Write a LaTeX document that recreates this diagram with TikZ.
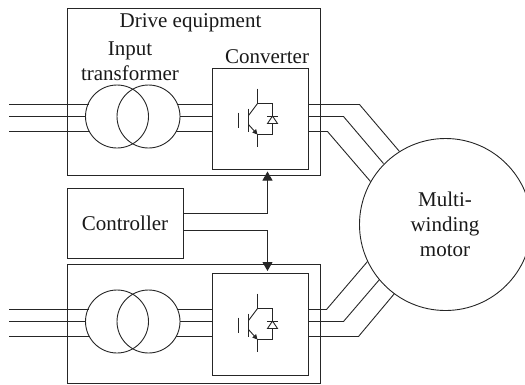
\documentclass[tikz,border=0pt]{standalone}
\usepackage{fontspec}
\setmainfont{Liberation Serif}
\usetikzlibrary{arrows.meta}
\tikzset{
  every picture/.style={x=1pt,y=-1pt},
  ln/.style={line width=1pt,draw=black!85},
  box/.style={line width=1pt,draw=black!85},
  lbl/.style={font=\fontsize{21}{24}\selectfont,inner sep=0pt,align=center,text=black!90},
  ctrl/.style={ln,-{Triangle[length=9pt,width=10pt]}},
  fineln/.style={line width=.9pt,draw=black!85}
}
\newcommand{\igbt}[3]{%
 \begin{scope}[shift={(#1,#2)}]
  \coordinate (#3g1) at (238,112); \coordinate (#3g2) at (238,127);
  \coordinate (#3b1) at (248,108); \coordinate (#3b2) at (248,131);
  \coordinate (#3t) at (257,88); \coordinate (#3c) at (257,103);
  \coordinate (#3e) at (257,134); \coordinate (#3f) at (257,146);
  \coordinate (#3r) at (272,103); \coordinate (#3s) at (272,134);
  \draw[fineln] (#3g1)--(#3g2);
  \draw[fineln] (#3b1)--(#3b2);
  \draw[fineln] (#3t)--(#3c)--(#3r)--(#3s)--(#3e)--(#3f);
  \draw[fineln] (248,115)--(#3c);
  \draw[fineln,-{Triangle[length=5pt,width=5pt]}] (248,124)--(#3e);
  \draw[fineln,fill=white] (272,115.5)--(277,123)--(267,123)--cycle;
  \draw[fineln] (266.5,115.5)--(277.5,115.5);
 \end{scope}}
\begin{document}
\begin{tikzpicture}
\useasboundingbox (-0.5,-0.5) rectangle (524.5,383.5);
\coordinate (a1) at (9,104); \coordinate (a2) at (9,116); \coordinate (a3) at (9,131);
\coordinate (b1) at (9,309); \coordinate (b2) at (9,321); \coordinate (b3) at (9,336);
\node[draw,box,minimum width=253pt,minimum height=167pt,inner sep=0pt] (top) at (193.5,91.5) {};
\node[draw,box,minimum width=253pt,minimum height=119pt,inner sep=0pt] (bot) at (193.5,323.5) {};
\node[draw,box,minimum width=116pt,minimum height=70pt,inner sep=0pt] (ctl) at (125,223) {};
\node[lbl] (ctltxt) at (124.5,222.5) {Controller};
\node[draw,box,minimum width=96pt,minimum height=101pt,inner sep=0pt] (c1) at (260,118.5) {};
\node[draw,box,minimum width=96pt,minimum height=102pt,inner sep=0pt] (c2) at (260,324) {};
\node[draw,fineln,circle,minimum size=63pt,inner sep=0pt] (t1l) at (116.5,116) {};
\node[draw,fineln,circle,minimum size=63pt,inner sep=0pt] (t1r) at (148,116) {};
\node[draw,fineln,circle,minimum size=63pt,inner sep=0pt] (t2l) at (116.5,321) {};
\node[draw,fineln,circle,minimum size=63pt,inner sep=0pt] (t2r) at (148,321) {};
\node[draw,fineln,circle,minimum size=172pt,inner sep=0pt] (m) at (445,224) {};
\node[lbl] (mt) at (444.5,224) {Multi-\\[1pt]winding\\[1pt]motor};
\node[lbl] (de) at (190,22.5) {Drive equipment};
\node[lbl] (it) at (129.5,60.5) {Input\\[1pt]transformer};
\node[lbl] (ct) at (266.5,56.5) {Converter};
\draw[ln] (a1)--(88.5,104) (a2)--(85,116) (a3)--(89.5,131);
\draw[ln] (b1)--(88.5,309) (b2)--(85,321) (b3)--(89.5,336);
\draw[ln] (176,104)--(c1.west |- 0,104) (179.5,116)--(c1.west |- 0,116) (175,131)--(c1.west |- 0,131);
\draw[ln] (176,309)--(c2.west |- 0,309) (179.5,321)--(c2.west |- 0,321) (175,336)--(c2.west |- 0,336);
\draw[fineln] (c1.east |- 0,104)--(359,104)--(399,151);
\draw[fineln] (c1.east |- 0,116)--(343,116)--(383,163);
\draw[fineln] (c1.east |- 0,131)--(327,131)--(370,181);
\draw[fineln] (c2.east |- 0,309)--(326,309)--(367,261);
\draw[fineln] (c2.east |- 0,321)--(343,321)--(379,279);
\draw[fineln] (c2.east |- 0,336)--(358,336)--(394,293);
\draw[ctrl] (ctl.east |- 0,213)--(267,213)--(267,171);
\draw[ctrl] (ctl.east |- 0,230)--(267,230)--(267,270.5);
\igbt{0}{0}{u}
\igbt{0}{205}{v}
\end{tikzpicture}
\end{document}
